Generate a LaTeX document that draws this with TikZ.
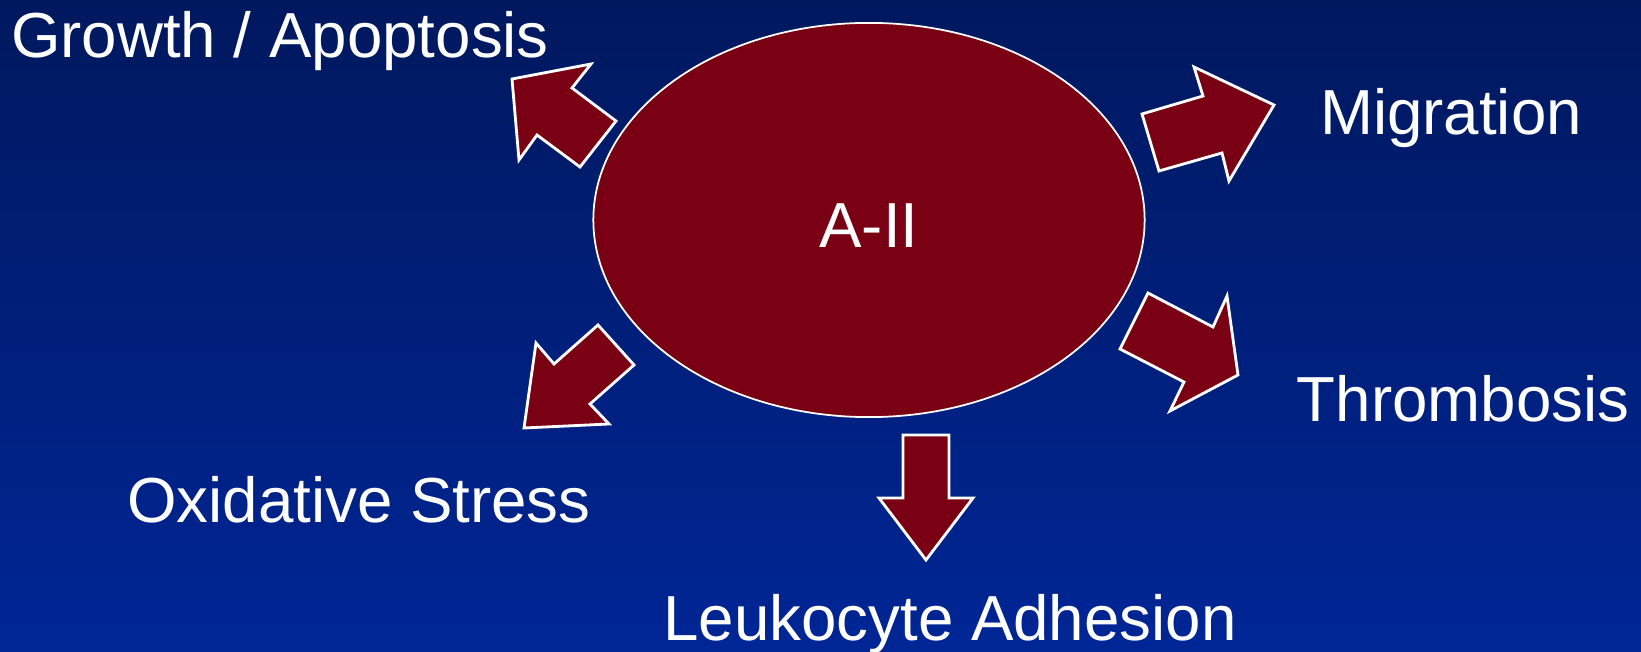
\documentclass[tikz,border=0pt]{standalone}
\usepackage{fontspec}
\setmainfont{Liberation Sans}
\usetikzlibrary{shapes.geometric, positioning}
\definecolor{bgtop}{RGB}{0,24,94}
\definecolor{bgbot}{RGB}{0,38,150}
\definecolor{blood}{RGB}{122,0,20}

\begin{document}
\begin{tikzpicture}[
            x=0.01cm, y=-0.01cm,
            lbl/.style={text=white, font=\fontsize{18.1}{20}\selectfont, inner sep=0pt, anchor=base},
            blk/.style={fill=blood, draw=white, line width=0.8pt, line join=miter},
        ]
            % background
            \shade[top color=bgtop, bottom color=bgbot] (0,0) rectangle (1641,652);
            \useasboundingbox (0,0) rectangle (1641,652);

            % centre
            \node[ellipse, draw=white, fill=blood, line width=0.5pt,
                minimum width=5.51cm, minimum height=3.94cm] (a2) at (869,220) {};
            \node[lbl] (a2txt) at (869,248) {A-II};

            % outcomes
            \node[lbl] (growth) at (280,58) {Growth / Apoptosis};
            \node[lbl] (migr) at (1451,135) {Migration};
            \node[lbl] (thromb) at (1463,422) {Thrombosis};
            \node[lbl] (oxid) at (359,523) {Oxidative Stress};
            \node[lbl] (leuko) at (950,641) {Leukocyte Adhesion};

            % block arrows
            \draw[blk] (512,79) -- (591,64) -- (572,88) -- (616,121) -- (580,167) -- (537,135) -- (519,160) -- cycle;
            \draw[blk] (1274,105) -- (1194,67) -- (1203,96) -- (1142,114) -- (1159,171) -- (1222,153) -- (1229,181) -- cycle;
            \draw[blk] (1238,375) -- (1227,296) -- (1213,327) -- (1148,293) -- (1120,349) -- (1184,382) -- (1170,411) -- cycle;
            \draw[blk] (524,428) -- (536,343) -- (554,364) -- (598,325) -- (634,365) -- (590,404) -- (609,424) -- cycle;
            \draw[blk] (926,560) -- (973,498) -- (949,498) -- (949,435) -- (903,435) -- (903,498) -- (879,498) -- cycle;
        \end{tikzpicture}
\end{document}
